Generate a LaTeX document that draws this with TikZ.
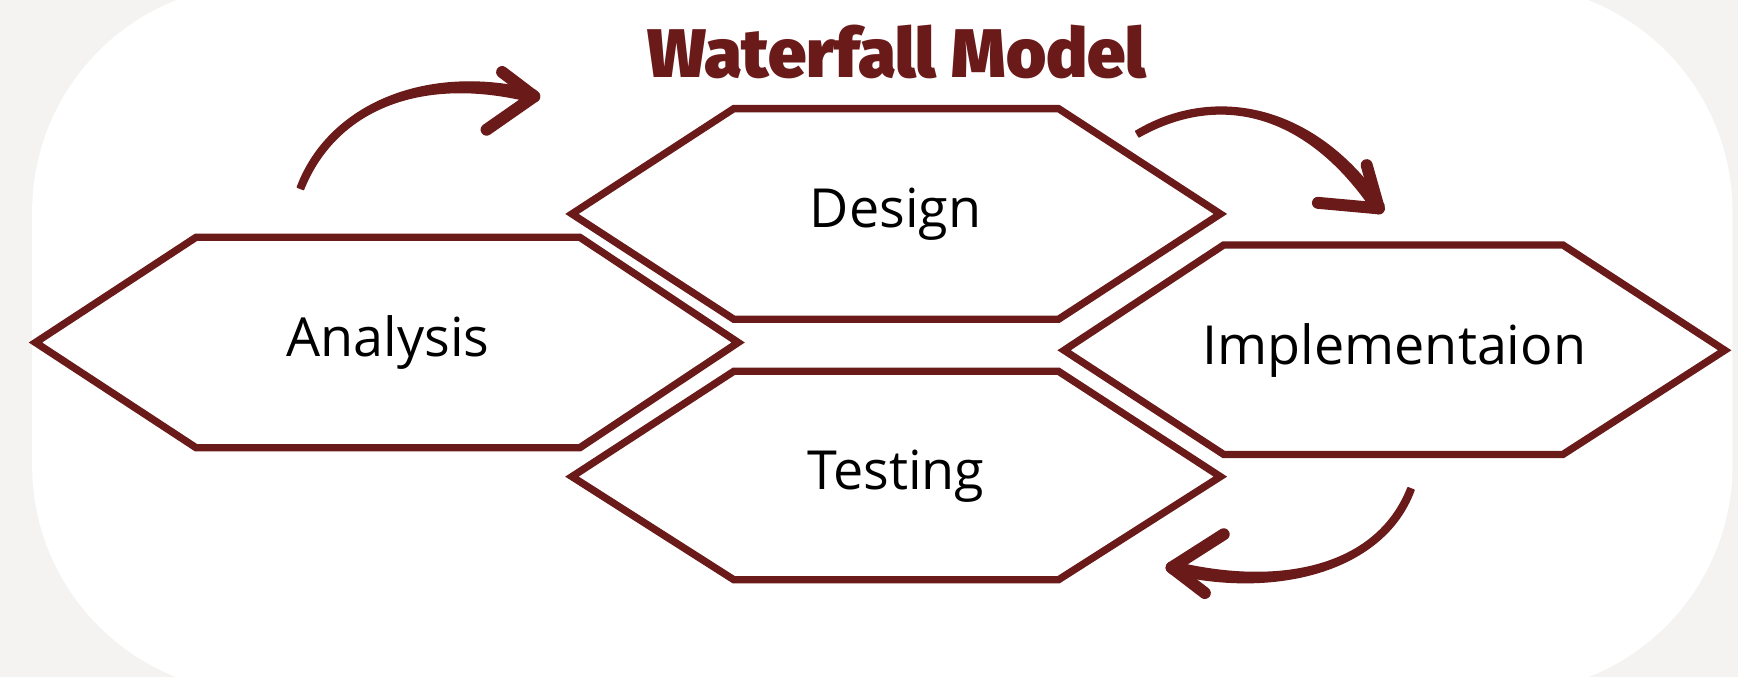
\documentclass[tikz,border=0pt]{standalone}
\usepackage{fontspec}
\setmainfont{Open Sans}
\newfontfamily\titlefont{Fira Sans Black}
\definecolor{maroon}{HTML}{6B1A1A}
\definecolor{bggray}{HTML}{F4F3F1}
\begin{document}
\begin{tikzpicture}[x=0.5pt,y=-0.5pt,
  hexa/.style={draw=maroon, line width=3.3pt, fill=white, line join=miter},
  lbl/.style={font=\fontsize{24.3}{29}\selectfont, text=black, inner sep=0pt},
  brushbody/.style={fill=maroon, draw=maroon, line width=0.6pt, line join=round},
  barb/.style={draw=maroon, line width=5.4pt, line cap=round}]
\useasboundingbox (0,0) rectangle (1568,611);
\begin{scope}
\clip (0,0) rectangle (1568,611);
\fill[bggray] (0,0) rectangle (1568,611);
\fill[white, rounded corners=102.5pt] (29,-14) rectangle (1563,625);
\end{scope}

% hexagons
\draw[hexa] (32,309) -- (177,214) -- (523,214) -- (666,309) -- (523,404) -- (177,404) -- cycle;
\draw[hexa] (516,193) -- (662,98) -- (955,98) -- (1101,193) -- (955,288) -- (662,288) -- cycle;
\draw[hexa] (960,316) -- (1104,221) -- (1410,221) -- (1556,316) -- (1410,410) -- (1104,410) -- cycle;
\draw[hexa] (516,430) -- (662,335) -- (955,335) -- (1101,430) -- (955,523) -- (662,523) -- cycle;

\node[lbl] (analysis) at (350,309) {Analysis};
\node[lbl] (design) at (808,193) {Design};
\node[lbl] (impl) at (1258,316) {Implementaion};
\node[lbl] (testing) at (808,430) {Testing};

\node[font=\titlefont\fontsize{31}{36}\selectfont, text=maroon, inner sep=0pt] (title) at (809,47) {Waterfall Model};

% arrow 1
\coordinate (a1s) at (271,170);
\coordinate (a1e) at (482,87);
\fill[brushbody] (268.2,168.9) .. controls (296.3,93.6) and (386.4,56.7) .. (483.4,81.7)
  -- (480.6,92.3) .. controls (383.6,67.3) and (303.7,96.4) .. (273.8,171.1) -- cycle;
\draw[barb] (a1e) -- (453,65);
\draw[barb] (a1e) -- (439,117);

% arrow 2
\coordinate (a2s) at (1026,121);
\coordinate (a2e) at (1244,188);
\fill[brushbody] (1024.5,118.4) .. controls (1098,74.5) and (1189.6,96.9) .. (1248.6,184.9)
  -- (1239.4,191.1) .. controls (1180.4,103.1) and (1102,81.5) .. (1027.5,123.6) -- cycle;
\draw[barb] (a2e) -- (1233,149);
\draw[barb] (a2e) -- (1189,183);

% arrow 3
\coordinate (a3s) at (1273,441);
\coordinate (a3e) at (1057,512);
\fill[brushbody] (1275.8,442.1) .. controls (1248.7,516.4) and (1148.7,540.3) .. (1055.7,517.3)
  -- (1058.3,506.7) .. controls (1151.3,529.7) and (1241.3,513.6) .. (1270.2,439.9) -- cycle;
\draw[barb] (a3e) -- (1104,482);
\draw[barb] (a3e) -- (1087,535);
\end{tikzpicture}
\end{document}
